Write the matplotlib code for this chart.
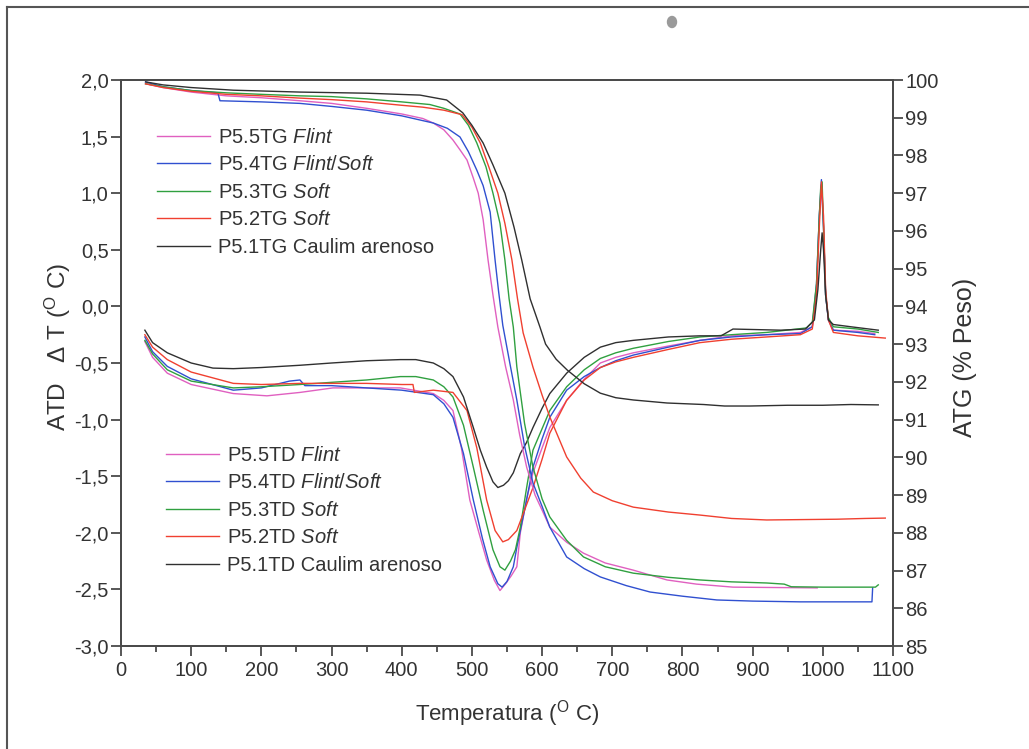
import matplotlib
matplotlib.use("Agg")
import matplotlib.pyplot as plt
import matplotlib.ticker as mticker
from matplotlib.lines import Line2D
from matplotlib.patches import Ellipse

plt.rcParams["font.family"] = ["Liberation Sans", "DejaVu Sans"]
plt.rcParams["mathtext.fontset"] = "custom"
plt.rcParams["mathtext.rm"] = "Liberation Sans"
plt.rcParams["mathtext.it"] = "Liberation Sans:italic"

# ── ATG (% Peso) curves ──────────────────────────────────────
tg1_t = [35, 60, 100, 160, 255, 350, 426, 464, 487, 500, 516, 530, 547, 560, 571, 583,
         597, 605, 620, 636, 660, 683, 705, 730, 778, 830, 860, 896, 950, 1000, 1040, 1079]
tg1_v = [99.95, 99.87, 99.8, 99.73, 99.68, 99.65, 99.6, 99.47, 99.13, 98.8, 98.33, 97.75,
         97.0, 96.1, 95.23, 94.2, 93.45, 93.0, 92.6, 92.31, 91.95, 91.7, 91.58, 91.52,
         91.44, 91.4, 91.36, 91.36, 91.38, 91.38, 91.4, 91.39]

tg2_t = [35, 60, 100, 150, 200, 255, 300, 350, 400, 430, 460, 486, 500, 512, 525, 537,
         547, 557, 565, 573, 587, 600, 611, 635, 655, 673, 700, 730, 780, 825, 870, 920,
         970, 1020, 1060, 1089]
tg2_v = [99.9, 99.8, 99.7, 99.62, 99.58, 99.52, 99.48, 99.42, 99.33, 99.28, 99.2, 99.08,
         98.75, 98.33, 97.65, 97.0, 96.2, 95.23, 94.2, 93.3, 92.39, 91.65, 91.07, 90.01,
         89.45, 89.08, 88.85, 88.68, 88.55, 88.47, 88.38, 88.34, 88.35, 88.36, 88.38, 88.39]

tg3_t = [35, 60, 100, 150, 200, 255, 300, 350, 400, 440, 460, 483, 495, 507, 520, 530,
         540, 547, 553, 559, 564, 575, 587, 600, 611, 635, 659, 690, 730, 780, 825, 870,
         920, 945, 955, 1000, 1040, 1075, 1079]
tg3_v = [99.9, 99.82, 99.72, 99.66, 99.62, 99.58, 99.56, 99.5, 99.42, 99.35, 99.25, 99.1,
         98.8, 98.33, 97.7, 97.0, 96.2, 95.23, 94.2, 93.45, 92.4, 90.9, 89.74, 88.9, 88.42,
         87.8, 87.36, 87.1, 86.93, 86.82, 86.75, 86.7, 86.67, 86.64, 86.57, 86.56, 86.56,
         86.56, 86.62]

tg4_t = [35, 60, 100, 138, 141, 200, 255, 300, 350, 400, 445, 465, 483, 495, 507, 516,
         526, 533, 538, 544, 554, 564, 575, 587, 600, 611, 635, 660, 683, 720, 754, 800,
         849, 900, 968, 1020, 1070, 1071]
tg4_v = [99.95, 99.82, 99.72, 99.66, 99.45, 99.42, 99.38, 99.3, 99.2, 99.05, 98.86, 98.72,
         98.49, 98.1, 97.61, 97.2, 96.5, 95.23, 94.4, 93.5, 92.5, 91.52, 90.3, 89.32, 88.7,
         88.15, 87.36, 87.05, 86.83, 86.6, 86.43, 86.32, 86.22, 86.19, 86.17, 86.17, 86.17,
         86.54]

tg5_t = [35, 60, 100, 150, 200, 255, 300, 350, 400, 430, 445, 460, 473, 483, 493, 502,
         509, 516, 523, 530, 537, 548, 559, 568, 578, 590, 600, 611, 635, 659, 690, 730,
         778, 820, 872, 930, 992]
tg5_v = [99.9, 99.8, 99.68, 99.58, 99.53, 99.45, 99.38, 99.25, 99.1, 98.98, 98.86, 98.68,
         98.41, 98.15, 97.88, 97.4, 97.0, 96.3, 95.23, 94.3, 93.45, 92.4, 91.52, 90.6, 89.74,
         89.0, 88.6, 88.15, 87.75, 87.46, 87.2, 87.01, 86.75, 86.64, 86.56, 86.55, 86.54]

# ── ATD (delta T) curves ─────────────────────────────────────
td1_t = [34, 45, 66, 100, 131, 160, 200, 255, 300, 350, 398, 420, 445, 460, 473, 488,
         502, 512, 521, 530, 537, 545, 552, 559, 569, 578, 587, 600, 611, 635, 660, 683,
         705, 730, 780, 825, 855, 872, 940, 975, 988, 993, 997, 999, 1001, 1004, 1008,
         1015, 1040, 1079]
td1_v = [-0.21, -0.32, -0.41, -0.5, -0.545, -0.55, -0.54, -0.52, -0.5, -0.48, -0.47,
         -0.47, -0.5, -0.55, -0.62, -0.8, -1.07, -1.27, -1.42, -1.55, -1.6, -1.58, -1.54,
         -1.47, -1.3, -1.2, -1.07, -0.9, -0.77, -0.59, -0.45, -0.36, -0.32, -0.3, -0.27,
         -0.26, -0.26, -0.2, -0.21, -0.2, -0.12, 0.15, 0.5, 0.65, 0.5, 0.1, -0.12, -0.16,
         -0.18, -0.21]

td2_t = [34, 45, 66, 100, 160, 200, 255, 300, 350, 400, 416, 418, 445, 473, 493, 507,
         521, 533, 544, 552, 564, 575, 587, 600, 611, 635, 660, 683, 705, 730, 780, 825,
         870, 920, 968, 985, 991, 995, 998, 1001, 1004, 1008, 1015, 1050, 1089]
td2_v = [-0.25, -0.36, -0.47, -0.58, -0.68, -0.69, -0.68, -0.68, -0.68, -0.69, -0.69,
         -0.76, -0.74, -0.76, -0.92, -1.25, -1.71, -1.98, -2.08, -2.06, -1.98, -1.8, -1.6,
         -1.35, -1.12, -0.83, -0.65, -0.54, -0.49, -0.45, -0.38, -0.32, -0.29, -0.27,
         -0.25, -0.2, 0.1, 0.7, 1.1, 0.8, 0.15, -0.12, -0.23, -0.26, -0.28]

td3_t = [34, 45, 66, 100, 160, 200, 255, 302, 350, 398, 420, 445, 460, 473, 488, 502,
         516, 530, 540, 547, 555, 562, 569, 578, 587, 600, 611, 635, 660, 683, 705, 730,
         780, 825, 870, 920, 977, 985, 991, 995, 997, 999, 1001, 1004, 1008, 1015, 1050,
         1079]
td3_v = [-0.3, -0.42, -0.56, -0.66, -0.72, -0.71, -0.69, -0.67, -0.65, -0.62, -0.62,
         -0.65, -0.71, -0.8, -1.05, -1.42, -1.8, -2.15, -2.3, -2.33, -2.25, -2.15, -1.95,
         -1.6, -1.27, -1.08, -0.92, -0.71, -0.56, -0.46, -0.41, -0.37, -0.31, -0.27,
         -0.25, -0.23, -0.19, -0.14, 0.2, 0.8, 1.05, 1.1, 0.7, 0.1, -0.1, -0.18, -0.2,
         -0.23]

td4_t = [34, 45, 66, 100, 160, 200, 240, 255, 262, 300, 350, 400, 445, 460, 473, 488,
         502, 515, 526, 537, 543, 550, 559, 564, 575, 587, 600, 611, 635, 660, 683, 705,
         730, 780, 825, 870, 920, 968, 985, 991, 995, 998, 1001, 1004, 1008, 1015, 1050,
         1074]
td4_v = [-0.27, -0.4, -0.53, -0.64, -0.74, -0.72, -0.66, -0.65, -0.7, -0.7, -0.72,
         -0.74, -0.78, -0.86, -0.98, -1.3, -1.71, -2.05, -2.3, -2.45, -2.48, -2.43, -2.3,
         -2.13, -1.8, -1.42, -1.17, -0.98, -0.74, -0.62, -0.54, -0.48, -0.43, -0.36, -0.3,
         -0.27, -0.25, -0.24, -0.18, 0.2, 0.8, 1.12, 0.7, 0.1, -0.12, -0.21, -0.23, -0.25]

td5_t = [34, 45, 66, 100, 160, 208, 255, 302, 350, 398, 445, 460, 473, 485, 497, 510,
         521, 532, 540, 548, 556, 564, 569, 578, 587, 600, 611, 635, 659, 683, 705, 730,
         780, 825, 870, 920, 968, 985, 991, 995, 998, 1001, 1004, 1008, 1015, 1050, 1074]
td5_v = [-0.31, -0.45, -0.59, -0.69, -0.77, -0.79, -0.76, -0.72, -0.72, -0.72, -0.77,
         -0.83, -0.92, -1.25, -1.71, -2.0, -2.24, -2.42, -2.51, -2.45, -2.38, -2.3, -2.0,
         -1.7, -1.47, -1.25, -1.07, -0.83, -0.65, -0.5, -0.45, -0.41, -0.35, -0.3, -0.26,
         -0.25, -0.23, -0.18, 0.15, 0.8, 1.08, 0.7, 0.1, -0.12, -0.21, -0.22, -0.24]

PINK, BLUE, GREEN, RED, BLACK = "#e060c0", "#3050d0", "#30a040", "#f04030", "#303030"

tg_series = [
    (tg5_t, tg5_v, PINK, r"P5.5TG $\mathit{Flint}$"),
    (tg4_t, tg4_v, BLUE, r"P5.4TG $\mathit{Flint/Soft}$"),
    (tg3_t, tg3_v, GREEN, r"P5.3TG $\mathit{Soft}$"),
    (tg2_t, tg2_v, RED, r"P5.2TG $\mathit{Soft}$"),
    (tg1_t, tg1_v, BLACK, "P5.1TG Caulim arenoso"),
]
td_series = [
    (td5_t, td5_v, PINK, r"P5.5TD $\mathit{Flint}$"),
    (td4_t, td4_v, BLUE, r"P5.4TD $\mathit{Flint/Soft}$"),
    (td3_t, td3_v, GREEN, r"P5.3TD $\mathit{Soft}$"),
    (td2_t, td2_v, RED, r"P5.2TD $\mathit{Soft}$"),
    (td1_t, td1_v, BLACK, "P5.1TD Caulim arenoso"),
]

W, H = 1029, 749
fig = plt.figure(figsize=(W / 100, H / 100), dpi=100)
ax = fig.add_axes([121 / W, 1 - 646 / H, (893 - 121) / W, (646 - 80) / H])
ax2 = ax.twinx()

axis_col = "#4a4a4a"
td_lines = []
for t, v, c, lab in td_series:
    ln, = ax.plot(t, v, color=c, lw=1.0, label=lab)
    td_lines.append(ln)
tg_lines = []
for t, v, c, lab in tg_series:
    ln, = ax2.plot(t, v, color=c, lw=1.0, label=lab)
    tg_lines.append(ln)

ax.set_xlim(0, 1100)
ax.set_ylim(-3.0, 2.0)
ax2.set_ylim(85, 100)

ax.xaxis.set_major_locator(mticker.MultipleLocator(100))
ax.xaxis.set_minor_locator(mticker.MultipleLocator(50))
ax.yaxis.set_major_locator(mticker.MultipleLocator(0.5))
ax2.yaxis.set_major_locator(mticker.MultipleLocator(1))
ax.yaxis.set_major_formatter(mticker.FuncFormatter(lambda v, p: f"{v:.1f}".replace(".", ",")))

for a in (ax, ax2):
    for s in a.spines.values():
        s.set_color(axis_col)
        s.set_linewidth(1.3)
    a.tick_params(which="both", direction="out", colors=axis_col, labelcolor="#333333",
                  labelsize=14.5, width=1.3)
    a.tick_params(which="major", length=7)
    a.tick_params(which="minor", length=4)
ax.tick_params(axis="y", pad=2)
ax.tick_params(axis="x", pad=4)
ax2.tick_params(axis="y", pad=2)

ax.set_xlabel(r"Temperatura ($^{\mathrm{O}}$ C)", labelpad=13, fontsize=16, color="#333333")
ax.set_ylabel(r"ATD   $\Delta$ T ($^{\mathrm{O}}$ C)", fontsize=17.5, color="#333333")
ax2.set_ylabel("ATG (% Peso)", fontsize=18, color="#333333", rotation=90)
ax.yaxis.set_label_coords(-0.062, 0.528)
ax2.yaxis.set_label_coords(1.078, 0.51)

leg_kw = dict(frameon=False, fontsize=14.5, handlelength=2.64, handletextpad=0.4,
              labelspacing=0.42, borderpad=0, borderaxespad=0, loc="upper left",
              bbox_transform=fig.transFigure)
leg1 = ax2.legend(handles=tg_lines, bbox_to_anchor=(157 / W, 1 - 128 / H), **leg_kw)
for txt in leg1.get_texts():
    txt.set_color("#333333")
ax2.add_artist(leg1)
leg2 = ax2.legend(handles=td_lines, bbox_to_anchor=(166 / W, 1 - 446 / H), **leg_kw)
for txt in leg2.get_texts():
    txt.set_color("#333333")

# page border and speck of the scanned sheet
fig.add_artist(Line2D([7 / W, 1.0], [1 - 7 / H, 1 - 7 / H], transform=fig.transFigure,
                      color="#555555", lw=1.5))
fig.add_artist(Line2D([7 / W, 7 / W], [0.0, 1 - 7 / H], transform=fig.transFigure,
                      color="#555555", lw=1.5))
fig.add_artist(Ellipse((672 / W, 1 - 22 / H), 9 / W, 11 / H, transform=fig.transFigure,
                       color="#9a9a9a"))

fig.savefig("out.png", dpi=100, facecolor="white")
